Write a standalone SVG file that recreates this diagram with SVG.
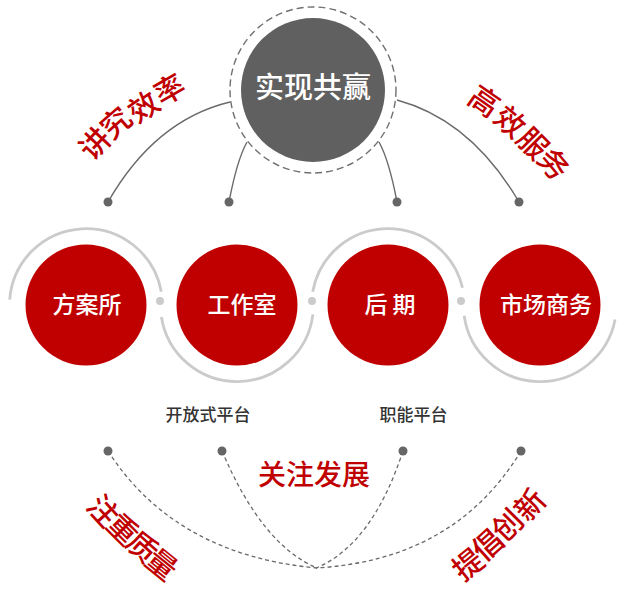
<svg xmlns="http://www.w3.org/2000/svg" width="623" height="589" viewBox="0 0 623 589">
<style>
text{font-family:"Noto Sans CJK SC","Noto Sans",sans-serif}
.conn{fill:none;stroke:#6a6a6a;stroke-width:1.4}
.dash{fill:none;stroke:#6a6a6a;stroke-width:1.3;stroke-dasharray:4 3}
.dot{fill:#666}
.ring{fill:none;stroke:#cbcbcb;stroke-width:2.8}
.sep{fill:#cbcbcb}
.red{fill:#c00000}
.wt{fill:#fff;font-size:23px;text-anchor:middle;font-weight:500}
.arc{fill:#c00000;font-size:30px;dominant-baseline:central;font-weight:500}
.lbl{fill:#333;font-size:17px;text-anchor:middle;font-weight:500}
.mid{fill:#c00000;font-size:28px;text-anchor:middle;font-weight:500}
</style>
<rect width="623" height="589" fill="#fff"/>
<g id="connectors">
<path class="conn" d="M230,102 Q155,120 108,202"/>
<path class="conn" d="M247,142 Q237,160 229,202"/>
<path class="conn" d="M379,142 Q389,160 397,202"/>
<path class="conn" d="M397,100 Q471,120 519,202"/>
<circle class="dot" cx="108" cy="202" r="4.5"/>
<circle class="dot" cx="229" cy="202" r="4.5"/>
<circle class="dot" cx="397" cy="202" r="4.5"/>
<circle class="dot" cx="519" cy="202" r="4.5"/>
<path class="dash" d="M108,451 Q175,555 317,568"/>
<path class="dash" d="M222,451 Q262,545 317,568"/>
<path class="dash" d="M403,451 Q372,545 316,568"/>
<path class="dash" d="M521,451 Q455,560 316,568"/>
<circle class="dot" cx="108" cy="451" r="4.5"/>
<circle class="dot" cx="222" cy="451" r="4.5"/>
<circle class="dot" cx="403" cy="451" r="4.5"/>
<circle class="dot" cx="521" cy="451" r="4.5"/>
</g>
<g id="hub">
<circle cx="313" cy="90" r="83" fill="none" stroke="#707070" stroke-width="1.4" stroke-dasharray="7 4"/>
<circle cx="313" cy="90" r="72" fill="#606060"/>
<text x="313" y="98" fill="#fff" font-size="29" font-weight="500" text-anchor="middle">实现共赢</text>
</g>
<g id="rings">
<path class="ring" d="M9.7,299.7 A76.5,76.5 0 0 1 161.3,291.7"/>
<path class="ring" d="M161.4,317 A76.5,76.5 0 0 0 312.9,314.3"/>
<path class="ring" d="M312.7,291.7 A76.5,76.5 0 0 1 462.5,287.8"/>
<path class="ring" d="M464.2,315.7 A76.5,76.5 0 0 0 615.1,319.6"/>
<circle class="sep" cx="160" cy="301" r="4"/>
<circle class="sep" cx="312" cy="301" r="4"/>
<circle class="sep" cx="461" cy="301" r="4"/>
</g>
<g id="node-fangan">
<circle class="red" cx="86" cy="305" r="60.5"/>
<text class="wt" x="87" y="312.5">方案所</text>
</g>
<g id="node-gongzuoshi">
<circle class="red" cx="237" cy="305" r="60.5"/>
<text class="wt" x="242" y="312.5">工作室</text>
</g>
<g id="node-houqi">
<circle class="red" cx="388" cy="305" r="60.5"/>
<text class="wt" x="390" y="312.5">后 期</text>
</g>
<g id="node-shichang">
<circle class="red" cx="540" cy="305" r="60.5"/>
<text class="wt" x="546" y="312.5">市场商务</text>
</g>
<g id="labels">
<text class="lbl" x="208" y="421">开放式平台</text>
<text class="lbl" x="413.5" y="421">职能平台</text>
<text class="mid" x="314" y="485">关注发展</text>
<text class="arc" x="92.8 111.7 137.7 162" y="149 128 111.6 93.5" rotate="-47 -41 -35 -30">讲究效率</text>
<text class="arc" x="465.7 491.5 514.4 535.4" y="88.4 107.4 127.4 146.5" rotate="35 40 45 50">高效服务</text>
<text class="arc" x="85 104.4 123.9 143.3" y="493.9 513.4 532 550.6" rotate="48 45 42 39">注重质量</text>
<text class="arc" x="463.3 483.9 504.4 528" y="569.4 550 530.6 510.2" rotate="-39 -42 -45 -48">提倡创新</text>
</g>
</svg>
